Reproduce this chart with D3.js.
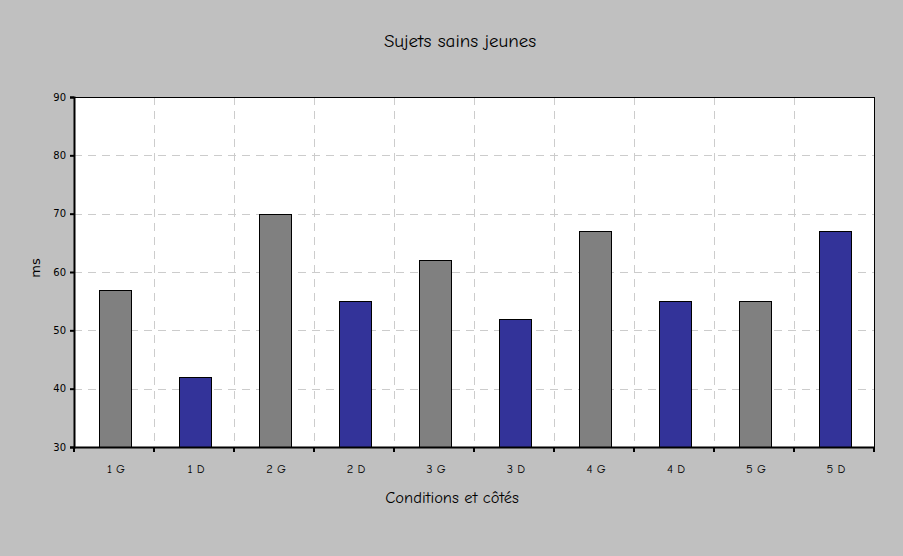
<!DOCTYPE html>
<html>
<head>
<meta charset="utf-8">
<script src="https://cdn.jsdelivr.net/npm/d3@7"></script>
<style>
  html, body { margin: 0; padding: 0; background: #c0c0c0; }
  svg { display: block; }
</style>
</head>
<body>
<svg id="chart" width="903" height="556"></svg>
<script>
const categories = ["1 G", "1 D", "2 G", "2 D", "3 G", "3 D", "4 G", "4 D", "5 G", "5 D"];
const values = [57, 42, 70, 55, 62, 52, 67, 55, 55, 67];
const sides = ["G", "D", "G", "D", "G", "D", "G", "D", "G", "D"];
const yTicks = [30, 40, 50, 60, 70, 80, 90];
const titleText = "Sujets sains jeunes";
const xTitle = "Conditions et côtés";
const yTitle = "ms";

const W = 903, H = 556;
const m = { left: 74, top: 97, right: 874, bottom: 447 };
const comic = "'Comic Sans MS', 'Comic Neue', 'DejaVu Sans', sans-serif";
const svg = d3.select("#chart");

svg.append("rect").attr("width", W).attr("height", H).attr("fill", "#c0c0c0");

const x = d3.scaleBand().domain(categories).range([m.left, m.right]).paddingInner(0).paddingOuter(0);
const y = d3.scaleLinear().domain([30, 90]).range([m.bottom, m.top]);

// plot area
svg.append("rect").attr("x", m.left).attr("y", m.top)
  .attr("width", m.right - m.left).attr("height", m.bottom - m.top)
  .attr("fill", "#ffffff");

// horizontal grid
svg.append("g").selectAll("line").data(yTicks.filter(t => t > 30 && t < 90)).join("line")
  .attr("x1", m.left).attr("x2", m.right)
  .attr("y1", d => Math.round(y(d)) + 0.5).attr("y2", d => Math.round(y(d)) + 0.5)
  .attr("stroke", "#cccccc").attr("stroke-width", 1).attr("stroke-dasharray", "8,6");

// vertical grid at band boundaries
const bounds = categories.slice(1).map(c => x(c));
svg.append("g").selectAll("line").data(bounds).join("line")
  .attr("x1", d => Math.round(d) + 0.5).attr("x2", d => Math.round(d) + 0.5)
  .attr("y1", m.top).attr("y2", m.bottom)
  .attr("stroke", "#cccccc").attr("stroke-width", 1).attr("stroke-dasharray", "8,6");

// bars
const bw = x.bandwidth() * 0.4;
svg.append("g").selectAll("rect").data(categories).join("rect")
  .attr("x", (d) => Math.round(x(d) + (x.bandwidth() - bw) / 2 + 1) + 0.5)
  .attr("y", (d, i) => Math.round(y(values[i])) + 0.5)
  .attr("width", bw)
  .attr("height", (d, i) => y(30) - Math.round(y(values[i])))
  .attr("fill", (d, i) => sides[i] === "G" ? "#808080" : "#333399")
  .attr("stroke", "#000000").attr("stroke-width", 1);

// plot border top/right
svg.append("line").attr("x1", m.left).attr("x2", m.right).attr("y1", m.top + 0.5).attr("y2", m.top + 0.5)
  .attr("stroke", "#000").attr("stroke-width", 1);
svg.append("line").attr("x1", m.right + 0.5).attr("x2", m.right + 0.5).attr("y1", m.top).attr("y2", m.bottom)
  .attr("stroke", "#000").attr("stroke-width", 1);

// y axis
const yAxis = svg.append("g").attr("transform", `translate(${m.left},0)`)
  .call(d3.axisLeft(y).tickValues(yTicks).tickSize(4).tickPadding(4));
yAxis.select(".domain").attr("stroke", "#000").attr("stroke-width", 2);
yAxis.selectAll(".tick line").attr("stroke", "#000").attr("stroke-width", 2);
yAxis.selectAll(".tick text").attr("font-family", "'DejaVu Sans', Verdana, sans-serif")
  .attr("font-size", 10).attr("fill", "#000");

// x axis
const xAxis = svg.append("g").attr("transform", `translate(0,${m.bottom})`)
  .call(d3.axisBottom(x).tickSize(0).tickPadding(17));
xAxis.select(".domain").attr("stroke", "#000").attr("stroke-width", 2);
xAxis.selectAll(".tick text").attr("font-family", comic).attr("font-size", 12.5).attr("fill", "#000")
  .attr("dx", 2);
svg.append("g").selectAll("line").data([m.left, ...bounds, m.right]).join("line")
  .attr("x1", d => Math.round(d)).attr("x2", d => Math.round(d))
  .attr("y1", m.bottom).attr("y2", m.bottom + 5)
  .attr("stroke", "#000").attr("stroke-width", 2);

// titles
svg.append("text").attr("x", 460).attr("y", 47).attr("text-anchor", "middle")
  .attr("font-family", comic).attr("font-size", 19).attr("fill", "#000").text(titleText);
svg.append("text").attr("x", 452).attr("y", 503).attr("text-anchor", "middle")
  .attr("font-family", comic).attr("font-size", 16.5).attr("fill", "#000").text(xTitle);
svg.append("text").attr("transform", "translate(40,268) rotate(-90)").attr("text-anchor", "middle")
  .attr("font-family", "'DejaVu Sans', Verdana, sans-serif").attr("font-size", 13).attr("fill", "#000").text(yTitle);
</script>
</body>
</html>
